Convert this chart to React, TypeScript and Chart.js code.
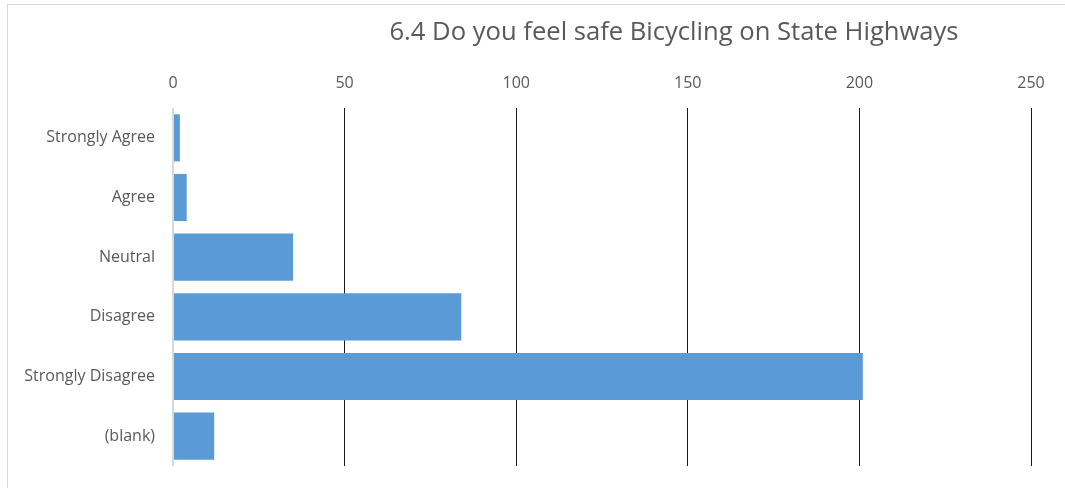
import React, { useEffect, useRef } from "react";
import { Chart, registerables } from "chart.js";

Chart.register(...registerables);

const categories = ["Strongly Agree", "Agree", "Neutral", "Disagree", "Strongly Disagree", "(blank)"];
const counts = [2, 4, 35, 84, 201, 12];
const titleText = "6.4 Do you feel safe Bicycling on State Highways";
const axisMin = 0;
const axisMax = 250;
const axisStep = 50;

const FONT = "'Open Sans', sans-serif";

const titlePlugin = {
  id: "customTitle",
  afterDraw(chart: any) {
    const { ctx } = chart;
    ctx.save();
    ctx.font = `25.6px ${FONT}`;
    ctx.fillStyle = "#595959";
    ctx.textAlign = "center";
    ctx.textBaseline = "middle";
    ctx.fillText(titleText, 674, 33);
    ctx.restore();
  },
};

export default function App() {
  const ref = useRef<HTMLCanvasElement | null>(null);
  useEffect(() => {
    if (!ref.current) return;
    const chart = new Chart(ref.current, {
      type: "bar",
      data: {
        labels: categories,
        datasets: [
          {
            data: counts,
            backgroundColor: "#5b9bd5",
            borderWidth: 0,
            categoryPercentage: 1,
            barPercentage: 0.79,
          },
        ],
      },
      options: {
        indexAxis: "y",
        animation: false,
        responsive: false,
        maintainAspectRatio: false,
        layout: { padding: { left: 0, right: 34, top: 0, bottom: 22 } },
        plugins: { legend: { display: false }, tooltip: { enabled: false }, title: { display: false } },
        scales: {
          x: {
            position: "top",
            min: axisMin,
            max: axisMax,
            afterFit(scale: any) {
              scale.height = 108;
              scale.paddingLeft = 0;
              scale.paddingRight = 0;
            },
            ticks: {
              stepSize: axisStep,
              color: "#595959",
              font: { family: FONT, size: 16 },
              padding: 15,
            },
            border: { display: false },
            grid: {
              drawTicks: false,
              color: (c: any) => (c.tick && c.tick.value === 0 ? "#d9d9d9" : "#1a1a1a"),
              lineWidth: (c: any) => (c.tick && c.tick.value === 0 ? 2 : 1),
            },
          },
          y: {
            afterFit(scale: any) {
              scale.width = 173;
              scale.paddingTop = 0;
              scale.paddingBottom = 0;
            },
            ticks: {
              color: "#595959",
              font: { family: FONT, size: 16 },
              padding: 18,
            },
            border: { display: false },
            grid: { display: false, drawTicks: false },
          },
        },
      },
      plugins: [titlePlugin],
    });
    return () => chart.destroy();
  }, []);

  return (
    <div
      style={{
        position: "fixed",
        left: 0,
        top: 0,
        width: 1065,
        height: 488,
        overflow: "hidden",
        background: "#fff",
      }}
    >
      <div
        style={{
          position: "absolute",
          left: 7,
          top: 4,
          width: 1200,
          height: 700,
          border: "1px solid #d9d9d9",
        }}
      />
      <canvas ref={ref} width={1065} height={488} style={{ position: "absolute", left: 0, top: 0 }} />
    </div>
  );
}
